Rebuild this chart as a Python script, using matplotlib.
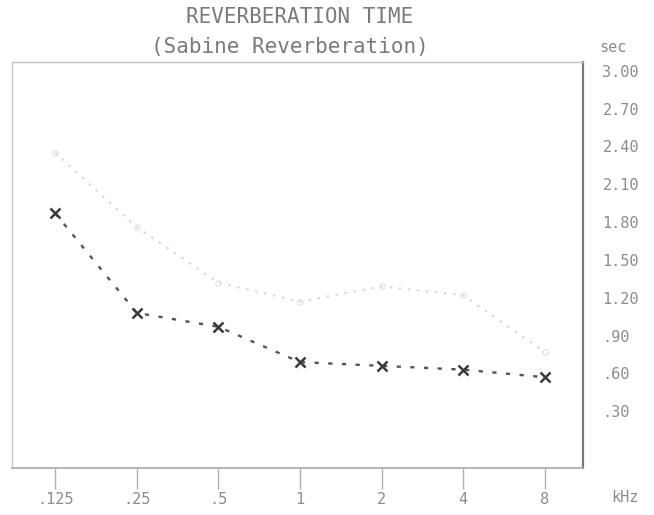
import matplotlib
matplotlib.use("Agg")
import matplotlib.pyplot as plt

# ---- data ----
freq_labels = [".125", ".25", ".5", "1", "2", "4", "8"]
series_low = [1.87, 1.08, 0.97, 0.69, 0.66, 0.63, 0.57]   # dark series
series_high = [2.35, 1.76, 1.32, 1.17, 1.29, 1.22, 0.77]  # faint series
ytick_vals = [3.00, 2.70, 2.40, 2.10, 1.80, 1.50, 1.20, 0.90, 0.60, 0.30]
ytick_labels = ["3.00", "2.70", "2.40", "2.10", "1.80", "1.50", "1.20", ".90", ".60", ".30"]
title1 = "REVERBERATION TIME"
title2 = "(Sabine Reverberation)"

W, H = 654, 515
fig = plt.figure(figsize=(W / 100, H / 100), dpi=100)
fig.patch.set_facecolor("white")

L, R, T, B = 12, 583, 62, 468
ax = fig.add_axes([L / W, 1 - B / H, (R - L) / W, (B - T) / H])
x = list(range(len(freq_labels)))

ax.plot(x, series_high, linestyle=(0, (1.2, 3.5)), color="#d4d4d4", lw=1.4,
        marker="o", ms=4, mfc="none", mec="#e0e0e0", mew=0.8)
ax.plot(x, series_low, linestyle=(0, (1.8, 4)), color="#555555", lw=1.7,
        marker="x", ms=7, mec="#3a3a3a", mew=1.8)

ax.set_xlim(-0.53, 6.47)
ax.set_ylim(-0.15, 3.07)

mono = "DejaVu Sans Mono"
ax.set_xticks(x)
ax.set_xticklabels(freq_labels, family=mono, fontsize=11, color="#8c8c8c")
ax.tick_params(axis="x", direction="out", length=15, width=1.0, color="#b0b0b0", pad=2)

ax.yaxis.tick_right()
ax.set_yticks(ytick_vals)
ax.set_yticklabels(ytick_labels, family=mono, fontsize=11, color="#8c8c8c")
for lab in ax.get_yticklabels():
    lab.set_horizontalalignment("left")
ax.tick_params(axis="y", length=0, pad=14)

for side, col, lw in [("left", "#c8c8c8", 1.0), ("right", "#7a7a7a", 1.6),
                      ("top", "#c0c0c0", 1.0), ("bottom", "#a8a8a8", 1.2)]:
    ax.spines[side].set_color(col)
    ax.spines[side].set_linewidth(lw)
ax.spines["top"].set_linestyle((0, (3, 1)))

fig.text(300 / W, 1 - 17 / H, title1, family=mono, fontsize=15, color="#7a7a7a",
         ha="center", va="center")
fig.text(290 / W, 1 - 47 / H, title2, family=mono, fontsize=15, color="#7a7a7a",
         ha="center", va="center")
fig.text(613 / W, 1 - 47 / H, "sec", family=mono, fontsize=11, color="#8c8c8c",
         ha="center", va="center")
fig.text(625 / W, 1 - 497 / H, "kHz", family=mono, fontsize=11, color="#8c8c8c",
         ha="center", va="center")

fig.savefig("out.png", dpi=100, facecolor="white")
